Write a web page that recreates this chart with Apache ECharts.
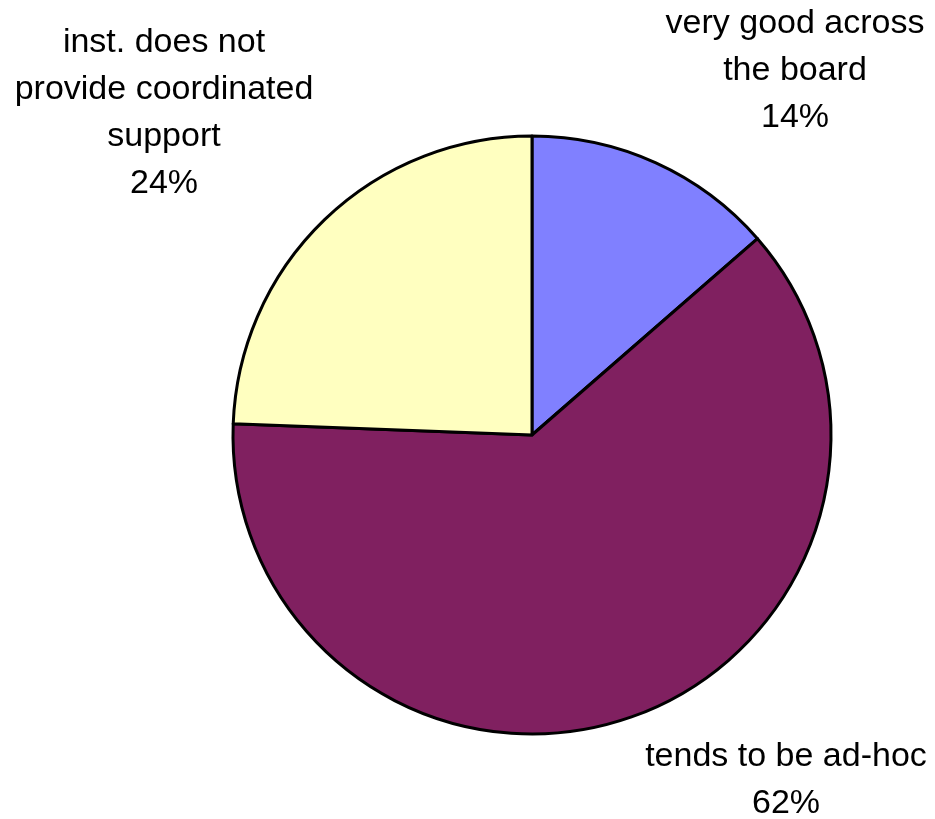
<!DOCTYPE html>
<html>
<head>
<meta charset="utf-8">
<script src="https://cdn.jsdelivr.net/npm/echarts@6/dist/echarts.min.js"></script>
<style>
html,body{margin:0;padding:0;background:#fff;}
#chart{width:935px;height:819px;}
</style>
</head>
<body>
<div id="chart"></div>
<script>
// Data
var categories = [
  'very good across\nthe board',
  'tends to be ad-hoc',
  'inst. does not\nprovide coordinated\nsupport'
];
var values = [13.6, 62.0, 24.4];
var colors = ['#8080FF', '#802060', '#FFFFC0'];

var labelPos = [[795, 71], [786, 780], [164, 113]];

var chart = echarts.init(document.getElementById('chart'), null, {renderer: 'canvas'});
chart.setOption({
  animation: false,
  backgroundColor: '#ffffff',
  series: [{
    type: 'pie',
    center: [532, 435],
    radius: 299,
    startAngle: 90,
    clockwise: true,
    percentPrecision: 0,
    avoidLabelOverlap: false,
    data: categories.map(function (c, i) {
      return {name: c, value: values[i], itemStyle: {color: colors[i]}};
    }),
    itemStyle: {borderColor: '#000', borderWidth: 3},
    label: {
      show: true,
      position: 'outside',
      formatter: '{b}\n{d}%',
      fontFamily: 'Liberation Sans, Arial, sans-serif',
      fontSize: 34,
      lineHeight: 47,
      color: '#000',
      align: 'center'
    },
    labelLine: {show: false},
    labelLayout: function (p) {
      var pos = labelPos[p.dataIndex];
      return {x: pos[0], y: pos[1], align: 'center', verticalAlign: 'middle'};
    },
    emphasis: {disabled: true}
  }]
});
</script>
</body>
</html>
